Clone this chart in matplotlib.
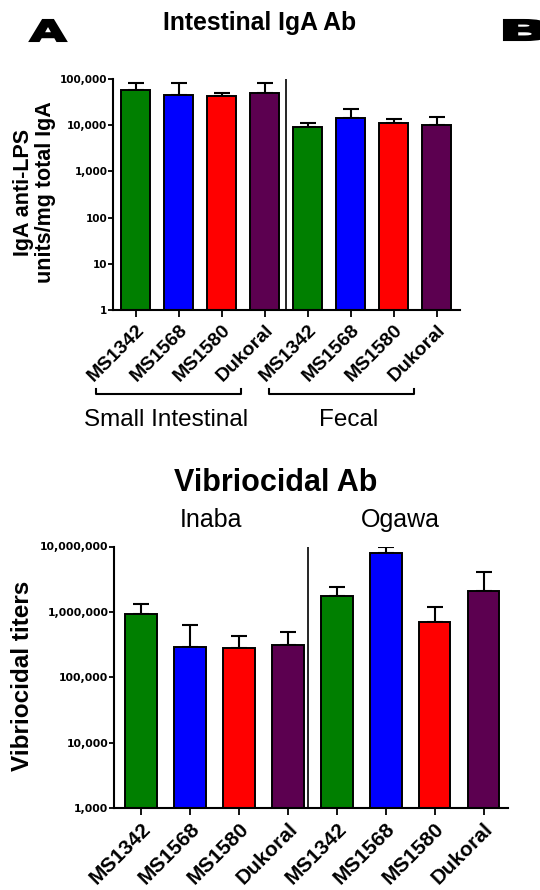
import matplotlib
matplotlib.use("Agg")
import matplotlib.pyplot as plt
import numpy as np
from matplotlib.textpath import TextPath
from matplotlib.patches import PathPatch
from matplotlib.font_manager import FontProperties
from matplotlib.transforms import Affine2D, ScaledTranslation, blended_transform_factory
from matplotlib.ticker import FixedLocator, FixedFormatter

plt.rcParams['font.family'] = ['Liberation Sans', 'DejaVu Sans']

groups = ["MS1342", "MS1568", "MS1580", "Dukoral",
          "MS1342", "MS1568", "MS1580", "Dukoral"]
colors = ["#007f00", "#0000ff", "#ff0000", "#5c0050"] * 2

# Intestinal IgA (small intestinal then fecal)
iga_mean = [58000, 44400, 42200, 50700, 9060, 14160, 11430, 9860]
iga_sem = [25200, 38800, 7700, 32500, 1830, 8740, 2030, 5000]
iga_ticks = [1, 10, 100, 1000, 10000, 100000]
iga_ticklabels = ["1", "10", "100", "1,000", "10,000", "100,000"]

# Vibriocidal titers (Inaba then Ogawa)
vib_mean = [935000, 286000, 276000, 306000, 1720000, 7820000, 689000, 2120000]
vib_sem = [365000, 349000, 155000, 194000, 720000, 2180000, 511000, 1980000]
vib_ticks = [1000, 10000, 100000, 1000000, 10000000]
vib_ticklabels = ["1,000", "10,000", "100,000", "1,000,000", "10,000,000"]

W, H = 540, 890
fig = plt.figure(figsize=(W / 100, H / 100), dpi=100)


def px_axes(left, top, right, bottom):
    return fig.add_axes([left / W, 1 - bottom / H, (right - left) / W, (bottom - top) / H])


def bar_panel(ax, means, sems, ticks, ticklabels, width, sep, tick_fs, lab_fs):
    x = np.arange(len(means))
    ax.errorbar(x, means, yerr=[np.zeros(len(sems)), sems], fmt="none",
                ecolor="black", elinewidth=1.5, capsize=6, capthick=1.5, zorder=1)
    ax.bar(x, means, width=width, color=colors, edgecolor="black",
           linewidth=1.4, zorder=2)
    ax.set_yscale("log")
    ax.yaxis.set_major_locator(FixedLocator(ticks))
    ax.yaxis.set_major_formatter(FixedFormatter(ticklabels))
    ax.yaxis.set_minor_locator(FixedLocator([]))
    ax.set_ylim(ticks[0], ticks[-1])
    ax.axvline(sep, color="black", linewidth=1.2, zorder=3)
    ax.set_xticks(x)
    ax.set_xticklabels(groups, rotation=45, ha="right", rotation_mode="anchor",
                       fontsize=lab_fs, fontweight="bold")
    shift = ScaledTranslation(-4 / 100, 0, fig.dpi_scale_trans)
    for lab in ax.get_xticklabels():
        lab.set_transform(lab.get_transform() + shift)
    for lab in ax.get_yticklabels():
        lab.set_fontsize(tick_fs)
        lab.set_fontweight("bold")
        lab.set_family("DejaVu Sans")
    for s in ["top", "right"]:
        ax.spines[s].set_visible(False)
    for s in ["left", "bottom"]:
        ax.spines[s].set_linewidth(1.5)
    ax.tick_params(axis="y", width=1.3, length=3.5, pad=0.5)
    ax.tick_params(axis="x", width=1.3, length=5, pad=3)


# ---- top panel
ax1 = px_axes(113, 79, 460, 310)
bar_panel(ax1, iga_mean, iga_sem, iga_ticks, iga_ticklabels, 0.67, 3.5, 7.5, 14)
ax1.set_xlim(-0.53, 7.54)
ax1.set_ylabel("IgA anti-LPS\nunits/mg total IgA", fontsize=15.5,
               fontweight="bold", linespacing=1.05)
ax1.yaxis.set_label_coords(-0.165, 0.51)

tr = blended_transform_factory(ax1.transData, ax1.transAxes)
for x0, x1, xt, name in [(-0.92, 2.44, 0.70, "Small Intestinal"),
                         (3.10, 6.46, 4.94, "Fecal")]:
    ax1.plot([x0, x0, x1, x1], [-0.342, -0.364, -0.364, -0.342], color="black",
             linewidth=1.5, transform=tr, clip_on=False)
    ax1.text(xt, -0.477, name, transform=tr, ha="center", va="center", fontsize=17.5)

fig.text(260 / W, 1 - 23 / H, "Intestinal IgA Ab", ha="center", va="center",
         fontsize=17.8, fontweight="bold")

# ---- bottom panel
ax2 = px_axes(114, 546.5, 508, 808)
bar_panel(ax2, vib_mean, vib_sem, vib_ticks, vib_ticklabels, 0.65, 3.42, 7.8, 15)
ax2.set_xlim(-0.55, 7.5)
ax2.set_ylabel("Vibriocidal titers", fontsize=17.5, fontweight="bold")
ax2.yaxis.set_label_coords(-0.204, 0.505)

fig.text(276 / W, 1 - 483 / H, "Vibriocidal Ab", ha="center", va="center",
         fontsize=22, fontweight="bold")
fig.text(211 / W, 1 - 520 / H, "Inaba", ha="center", va="center", fontsize=18)
fig.text(400 / W, 1 - 520 / H, "Ogawa", ha="center", va="center", fontsize=18)


# ---- heavy, wide panel letters
def panel_letter(letter, left, top, right, bottom):
    tp = TextPath((0, 0), letter, size=1,
                  prop=FontProperties(family="DejaVu Sans", weight="bold"))
    ext = tp.get_extents()
    sx = (right - left) / ext.width
    sy = (bottom - top) / ext.height
    t = Affine2D().translate(-ext.x0, -ext.y0).scale(sx, sy).translate(left, H - bottom)
    fig.add_artist(PathPatch(tp, transform=t, facecolor="black", edgecolor="black",
                             linewidth=1.5))


panel_letter("A", 30, 20, 66, 41)
panel_letter("B", 504, 20, 546, 40)

fig.savefig("out.png", dpi=100)
